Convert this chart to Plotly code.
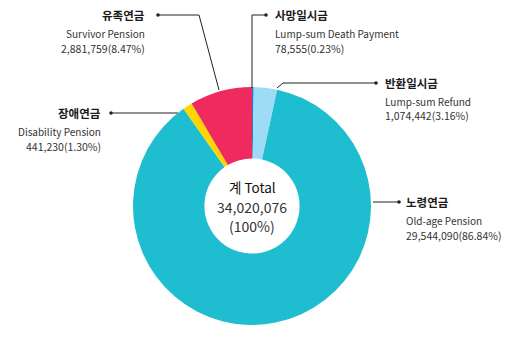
import plotly.graph_objects as go

W, H = 520, 339

labels_ko = ["사망일시금", "반환일시금", "노령연금", "장애연금", "유족연금"]
labels_en = ["Lump-sum Death Payment", "Lump-sum Refund", "Old-age Pension", "Disability Pension", "Survivor Pension"]
values = [78555, 1074442, 29544090, 441230, 2881759]
percents = ["0.23%", "3.16%", "86.84%", "1.30%", "8.47%"]
colors = ["#1a7fd0", "#9edcf6", "#1fbdd0", "#ffd500", "#ef2a5f"]
total_text = ["계 Total", "34,020,076", "(100%)"]

FONT = "Noto Sans CJK KR"

def px(x):
    return x / W

def py(y):
    return 1 - y / H

fig = go.Figure()
fig.add_trace(go.Pie(
    labels=labels_en, values=values, sort=False, direction="clockwise", rotation=0,
    hole=0.4, marker=dict(colors=colors, line=dict(width=0)),
    textinfo="none", hoverinfo="skip", showlegend=False,
    domain=dict(x=[px(133), px(371)], y=[py(325), py(87)]),
))

# label blocks: (x, y_top, anchor)
blocks = [
    (273, 15, "left"),    # death
    (383, 83, "left"),    # refund
    (404, 202, "left"),   # old-age
    (103, 113, "right"),  # disability
    (147, 15, "right"),   # survivor
]
anns = []
for i, (x, y, anc) in enumerate(blocks):
    num = f"{values[i]:,}({percents[i]})"
    anns.append(dict(x=px(x), y=py(y), text=f"<b>{labels_ko[i]}</b>", xanchor=anc, yanchor="middle",
                     showarrow=False, font=dict(family=FONT, size=11.5, color="#1a1a1a")))
    anns.append(dict(x=px(x), y=py(y + 18), text=labels_en[i], xanchor=anc, yanchor="middle",
                     showarrow=False, font=dict(family=FONT, size=10, color="#333333")))
    anns.append(dict(x=px(x), y=py(y + 33), text=num, xanchor=anc, yanchor="middle",
                     showarrow=False, font=dict(family=FONT, size=10.5, color="#333333")))

anns.append(dict(x=px(252), y=py(187), text=total_text[0], showarrow=False, xanchor="center", yanchor="middle",
                 font=dict(family=FONT, size=13.5, color="#111111")))
anns.append(dict(x=px(252), y=py(207), text=total_text[1], showarrow=False, xanchor="center", yanchor="middle",
                 font=dict(family=FONT, size=14, color="#333333")))
anns.append(dict(x=px(252), y=py(226), text=total_text[2], showarrow=False, xanchor="center", yanchor="middle",
                 font=dict(family=FONT, size=14, color="#333333")))

# leader lines (pixel paths)
paths = [
    [(252, 88), (252, 15), (266, 15)],
    [(277, 88), (283, 83), (376, 83)],
    [(373, 202), (399, 202)],
    [(178, 113), (111, 113)],
    [(219, 90), (199, 15), (158, 15)],
]
shapes = []
for pts in paths:
    d = "M " + " L ".join(f"{px(a)},{py(b)}" for a, b in pts)
    shapes.append(dict(type="path", xref="paper", yref="paper", path=d,
                       line=dict(color="#222222", width=1)))
    ex, ey = pts[-1]
    r = 1.8
    shapes.append(dict(type="circle", xref="paper", yref="paper",
                       x0=px(ex - r), x1=px(ex + r), y0=py(ey + r), y1=py(ey - r),
                       fillcolor="#222222", line=dict(width=0)))

fig.update_layout(
    width=W, height=H, margin=dict(l=0, r=0, t=0, b=0),
    paper_bgcolor="white", plot_bgcolor="white",
    annotations=anns, shapes=shapes, font=dict(family=FONT),
)
fig.write_html("out.html")
